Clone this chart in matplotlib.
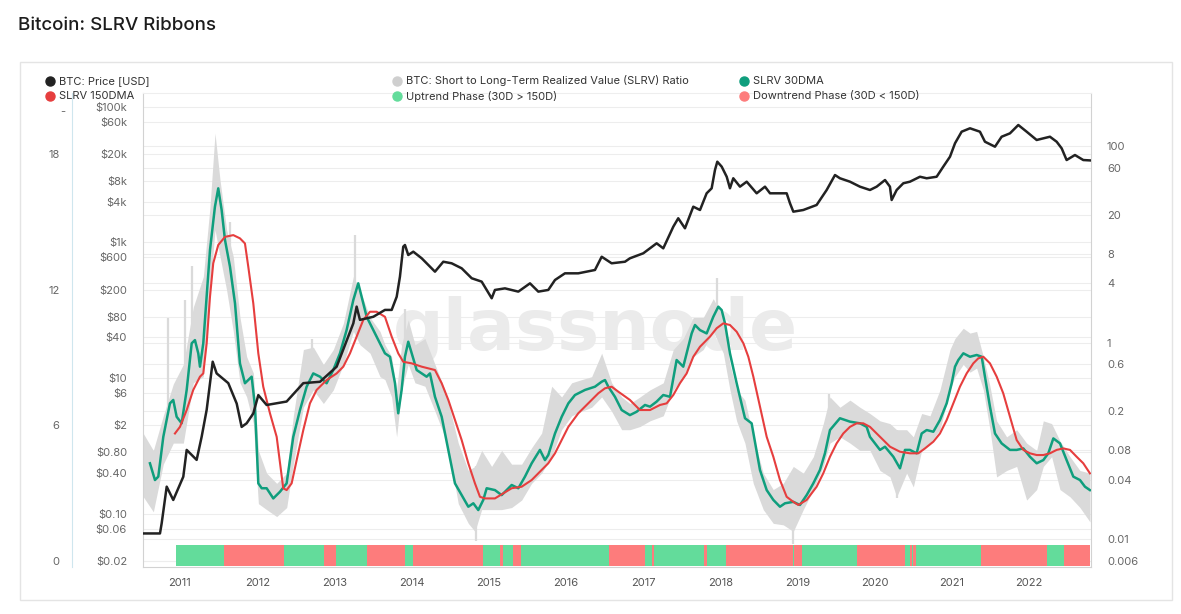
import numpy as np
import matplotlib.pyplot as plt
import matplotlib.transforms as mtrans
from matplotlib.lines import Line2D
from matplotlib.patches import Rectangle
from matplotlib.ticker import NullLocator

plt.rcParams['font.family'] = ['Inter', 'DejaVu Sans']

# ---- data (decimal years) ----
price_t = [2010.525, 2010.741, 2010.763, 2010.828, 2010.913, 2011.043, 2011.087, 2011.216, 2011.281,
           2011.346, 2011.424, 2011.475, 2011.626, 2011.735, 2011.799, 2011.864, 2011.95, 2012.015,
           2012.123, 2012.382, 2012.598, 2012.814, 2013.03, 2013.246, 2013.289, 2013.332, 2013.505,
           2013.656, 2013.743, 2013.808, 2013.85, 2013.893, 2013.915, 2013.958, 2014.023, 2014.132,
           2014.304, 2014.412, 2014.52, 2014.65, 2014.78, 2014.909, 2015.039, 2015.081, 2015.211,
           2015.384, 2015.535, 2015.643, 2015.772, 2015.859, 2015.988, 2016.161, 2016.377, 2016.464,
           2016.593, 2016.766, 2016.83, 2017.003, 2017.176, 2017.262, 2017.392, 2017.456, 2017.543,
           2017.651, 2017.738, 2017.824, 2017.889, 2017.932, 2017.962, 2018.019, 2018.084, 2018.126,
           2018.169, 2018.256, 2018.343, 2018.472, 2018.58, 2018.645, 2018.861, 2018.904, 2018.947,
           2019.076, 2019.249, 2019.379, 2019.487, 2019.551, 2019.681, 2019.81, 2019.94, 2020.027,
           2020.135, 2020.199, 2020.221, 2020.286, 2020.372, 2020.458, 2020.588, 2020.675, 2020.804,
           2020.89, 2020.977, 2021.042, 2021.128, 2021.236, 2021.365, 2021.43, 2021.56, 2021.646,
           2021.754, 2021.862, 2021.97, 2022.1, 2022.272, 2022.359, 2022.424, 2022.488, 2022.596,
           2022.704, 2022.79]
price = [0.051, 0.051, 0.072, 0.25, 0.159, 0.35, 0.87, 0.62, 1.36,
         3.4, 17.4, 11.7, 8.4, 4.2, 1.9, 2.15, 3.0, 5.6,
         4.0, 4.5, 8.4, 8.8, 14.7, 64, 113, 72, 80,
         101, 101, 158, 312, 865, 916, 652, 730, 583,
         370, 519, 492, 415, 296, 264, 150, 199, 210,
         188, 249, 188, 199, 279, 350, 350, 392, 615,
         492, 519, 583, 691, 970, 818, 1706, 2270, 1615,
         3365, 3006, 5300, 6280, 11700, 15500, 13100, 9300, 6280,
         8830, 6640, 7860, 5300, 6640, 5300, 5300, 3775, 2840,
         3006, 3565, 5930, 9860, 8830, 7860, 6640, 5930, 6640,
         8320, 6640, 4220, 5930, 7450, 7860, 9300, 8830, 9300,
         13100, 18370, 28970, 42950, 48200, 42950, 30550, 25800, 36200,
         40600, 53900, 42950, 32400, 36200, 30550, 24400, 16400, 19450,
         16400, 16200]

# raw SLRV ratio: band (upper / lower envelope)
gray_t = [2010.525, 2010.655, 2010.784, 2010.914, 2011.044, 2011.173, 2011.303, 2011.389, 2011.454,
          2011.519, 2011.605, 2011.691, 2011.778, 2011.864, 2011.951, 2012.016, 2012.123, 2012.253,
          2012.383, 2012.469, 2012.599, 2012.728, 2012.858, 2012.987, 2013.117, 2013.247, 2013.333,
          2013.463, 2013.592, 2013.656, 2013.742, 2013.807, 2013.872, 2013.958, 2014.045, 2014.174,
          2014.304, 2014.433, 2014.52, 2014.606, 2014.736, 2014.822, 2014.909, 2015.038, 2015.168,
          2015.297, 2015.427, 2015.556, 2015.686, 2015.816, 2015.945, 2016.075, 2016.204, 2016.334,
          2016.464, 2016.593, 2016.723, 2016.83, 2016.96, 2017.089, 2017.262, 2017.392, 2017.521,
          2017.651, 2017.78, 2017.91, 2018.04, 2018.126, 2018.212, 2018.32, 2018.428, 2018.558,
          2018.687, 2018.817, 2018.947, 2019.076, 2019.206, 2019.335, 2019.422, 2019.551, 2019.681,
          2019.81, 2019.94, 2020.07, 2020.199, 2020.286, 2020.415, 2020.502, 2020.61, 2020.718,
          2020.847, 2020.977, 2021.041, 2021.149, 2021.236, 2021.322, 2021.409, 2021.495, 2021.581,
          2021.711, 2021.841, 2021.97, 2022.1, 2022.186, 2022.294, 2022.402, 2022.532, 2022.661,
          2022.791]
gray_hi = [0.119, 0.080, 0.18, 0.38, 0.6, 2.3, 4.7, 24, 135,
           45, 14, 7.5, 1.8, 0.72, 0.49, 0.08, 0.047, 0.037,
           0.047, 0.18, 0.85, 0.9, 0.6, 0.85, 1.57, 4.7, 3.4,
           1.8, 1.3, 0.95, 0.72, 0.33, 0.95, 1.7, 0.95, 1.1,
           0.6, 0.33, 0.18, 0.095, 0.05, 0.055, 0.08, 0.055, 0.08,
           0.058, 0.058, 0.085, 0.12, 0.36, 0.28, 0.39, 0.42, 0.45,
           0.78, 0.39, 0.28, 0.24, 0.28, 0.33, 0.39, 0.85, 1.1,
           1.8, 1.8, 2.8, 1.8, 0.6, 0.33, 0.26, 0.11, 0.047,
           0.032, 0.037, 0.055, 0.047, 0.069, 0.15, 0.28, 0.22, 0.26,
           0.22, 0.19, 0.16, 0.15, 0.13, 0.13, 0.11, 0.19, 0.18,
           0.33, 0.85, 1.1, 1.4, 1.25, 1.3, 0.72, 0.36, 0.16,
           0.11, 0.13, 0.095, 0.08, 0.16, 0.15, 0.1, 0.069, 0.05,
           0.047]
gray_lo = [0.027, 0.019, 0.058, 0.095, 0.095, 0.39, 0.45, 3.4, 14,
           7.5, 3.4, 1.3, 0.39, 0.28, 0.15, 0.023, 0.02, 0.017,
           0.021, 0.058, 0.22, 0.33, 0.24, 0.33, 0.6, 1.3, 0.95,
           0.78, 0.45, 0.42, 0.28, 0.11, 0.33, 0.6, 0.39, 0.36,
           0.2, 0.11, 0.055, 0.023, 0.0145, 0.012, 0.02, 0.02, 0.02,
           0.021, 0.025, 0.037, 0.047, 0.069, 0.13, 0.18, 0.2, 0.22,
           0.28, 0.2, 0.13, 0.13, 0.14, 0.16, 0.18, 0.33, 0.45,
           0.72, 0.85, 1.3, 0.78, 0.33, 0.16, 0.095, 0.037, 0.02,
           0.0145, 0.014, 0.012, 0.02, 0.032, 0.055, 0.095, 0.11, 0.095,
           0.08, 0.08, 0.05, 0.043, 0.027, 0.047, 0.034, 0.08, 0.095,
           0.13, 0.33, 0.45, 0.6, 0.5, 0.55, 0.33, 0.13, 0.043,
           0.05, 0.055, 0.025, 0.032, 0.055, 0.069, 0.032, 0.027, 0.021,
           0.015]
spike_t = [2010.848, 2011.065, 2011.15, 2011.648, 2012.71, 2013.267, 2013.915, 2014.834,
           2017.953, 2018.947, 2019.41, 2020.286]
spike_hi = [1.8, 2.7, 6, 17, 1.1, 12.5, 2.2, 0.055, 4.5, 0.05, 0.3, 0.13]
spike_lo = [0.1, 0.3, 0.8, 4, 0.4, 2, 0.6, 0.0095, 1.5, 0.009, 0.1, 0.026]

ma30_t = [2010.611, 2010.676, 2010.719, 2010.784, 2010.87, 2010.913, 2010.957, 2011.022, 2011.087,
          2011.152, 2011.194, 2011.237, 2011.259, 2011.302, 2011.389, 2011.453, 2011.496, 2011.54,
          2011.583, 2011.648, 2011.713, 2011.777, 2011.842, 2011.929, 2011.972, 2012.015, 2012.059,
          2012.123, 2012.209, 2012.296, 2012.382, 2012.468, 2012.555, 2012.641, 2012.727, 2012.814,
          2012.9, 2012.986, 2013.073, 2013.159, 2013.246, 2013.31, 2013.354, 2013.419, 2013.505,
          2013.591, 2013.656, 2013.721, 2013.786, 2013.828, 2013.872, 2013.915, 2013.958, 2014.002,
          2014.067, 2014.132, 2014.196, 2014.239, 2014.304, 2014.391, 2014.477, 2014.563, 2014.65,
          2014.736, 2014.801, 2014.865, 2014.93, 2014.974, 2015.081, 2015.168, 2015.298, 2015.384,
          2015.47, 2015.557, 2015.664, 2015.729, 2015.772, 2015.859, 2015.946, 2016.032, 2016.118,
          2016.248, 2016.377, 2016.464, 2016.507, 2016.55, 2016.636, 2016.723, 2016.83, 2016.917,
          2017.025, 2017.09, 2017.176, 2017.262, 2017.349, 2017.435, 2017.521, 2017.565, 2017.63,
          2017.673, 2017.738, 2017.824, 2017.91, 2017.975, 2018.019, 2018.062, 2018.126, 2018.213,
          2018.321, 2018.407, 2018.515, 2018.602, 2018.688, 2018.774, 2018.839, 2018.947, 2019.033,
          2019.12, 2019.206, 2019.292, 2019.357, 2019.422, 2019.551, 2019.681, 2019.81, 2019.897,
          2019.94, 2020.005, 2020.07, 2020.135, 2020.243, 2020.329, 2020.394, 2020.458, 2020.545,
          2020.61, 2020.675, 2020.761, 2020.847, 2020.934, 2020.999, 2021.042, 2021.085, 2021.15,
          2021.236, 2021.323, 2021.388, 2021.43, 2021.495, 2021.56, 2021.646, 2021.754, 2021.841,
          2021.927, 2022.013, 2022.1, 2022.186, 2022.251, 2022.316, 2022.402, 2022.488, 2022.575,
          2022.661, 2022.726, 2022.79]
ma30 = [0.0592, 0.040, 0.0433, 0.110, 0.241, 0.261, 0.176, 0.151, 0.33,
        0.984, 1.06, 0.778, 0.569, 0.984, 8.75, 24.1, 37.1, 22.3,
        11.1, 5.92, 2.51, 0.615, 0.386, 0.45, 0.223, 0.037, 0.033,
        0.033, 0.026, 0.0304, 0.037, 0.110, 0.206, 0.356, 0.486, 0.45,
        0.386, 0.526, 0.778, 1.34, 2.71, 4.01, 2.93, 1.83, 1.34,
        0.984, 0.778, 0.718, 0.386, 0.191, 0.33, 0.718, 1.02, 0.778,
        0.526, 0.486, 0.45, 0.486, 0.281, 0.176, 0.081, 0.037, 0.0281,
        0.0214, 0.0232, 0.0198, 0.0251, 0.033, 0.0316, 0.0281, 0.0356, 0.033,
        0.0433, 0.0592, 0.081, 0.0638, 0.0718, 0.119, 0.176, 0.241, 0.293,
        0.33, 0.356, 0.40, 0.416, 0.356, 0.281, 0.206, 0.183, 0.198,
        0.232, 0.223, 0.251, 0.293, 0.281, 0.665, 0.569, 0.778, 1.24,
        1.51, 1.34, 1.24, 1.83, 2.32, 2.14, 1.57, 0.778, 0.386,
        0.17, 0.151, 0.0506, 0.0316, 0.0251, 0.0214, 0.0232, 0.024, 0.0223,
        0.0281, 0.037, 0.0506, 0.0748, 0.129, 0.17, 0.157, 0.151, 0.139,
        0.110, 0.0944, 0.081, 0.0873, 0.069, 0.0526, 0.081, 0.081, 0.0748,
        0.119, 0.129, 0.124, 0.163, 0.241, 0.386, 0.569, 0.665, 0.778,
        0.718, 0.748, 0.718, 0.45, 0.223, 0.119, 0.0944, 0.081, 0.081,
        0.0839, 0.069, 0.0592, 0.0638, 0.0748, 0.106, 0.0944, 0.0638, 0.0433,
        0.040, 0.0342, 0.0316]

ma150_t = [2010.935, 2011.0, 2011.087, 2011.172, 2011.259, 2011.302, 2011.346, 2011.389, 2011.431,
           2011.496, 2011.583, 2011.691, 2011.777, 2011.842, 2011.885, 2011.95, 2012.015, 2012.079,
           2012.166, 2012.253, 2012.296, 2012.338, 2012.382, 2012.447, 2012.512, 2012.598, 2012.684,
           2012.771, 2012.9, 2013.03, 2013.116, 2013.203, 2013.289, 2013.375, 2013.462, 2013.548,
           2013.656, 2013.743, 2013.828, 2013.893, 2014.002, 2014.132, 2014.304, 2014.391, 2014.477,
           2014.563, 2014.65, 2014.736, 2014.822, 2014.887, 2014.952, 2015.081, 2015.189, 2015.298,
           2015.427, 2015.557, 2015.686, 2015.772, 2015.859, 2015.946, 2016.032, 2016.161, 2016.29,
           2016.42, 2016.507, 2016.593, 2016.679, 2016.83, 2016.96, 2017.09, 2017.219, 2017.306,
           2017.392, 2017.478, 2017.565, 2017.651, 2017.738, 2017.867, 2017.954, 2018.04, 2018.126,
           2018.213, 2018.3, 2018.364, 2018.429, 2018.515, 2018.602, 2018.688, 2018.774, 2018.861,
           2018.947, 2019.012, 2019.12, 2019.249, 2019.335, 2019.422, 2019.508, 2019.594, 2019.681,
           2019.768, 2019.853, 2019.94, 2020.07, 2020.2, 2020.329, 2020.458, 2020.566, 2020.653,
           2020.761, 2020.847, 2020.934, 2021.02, 2021.106, 2021.193, 2021.279, 2021.344, 2021.409,
           2021.495, 2021.582, 2021.667, 2021.754, 2021.841, 2021.927, 2022.013, 2022.1, 2022.186,
           2022.272, 2022.359, 2022.445, 2022.532, 2022.618, 2022.704, 2022.79]
ma150 = [0.119, 0.139, 0.206, 0.33, 0.45, 0.486, 0.984, 2.93, 6.41,
         9.84, 11.9, 12.4, 11.5, 10.2, 5.92, 2.51, 0.778, 0.356,
         0.191, 0.110, 0.0592, 0.033, 0.0316, 0.037, 0.0638, 0.129, 0.241,
         0.33, 0.416, 0.486, 0.569, 0.778, 1.15, 1.70, 2.06, 2.06,
         1.83, 1.15, 0.778, 0.638, 0.615, 0.569, 0.526, 0.386, 0.261,
         0.163, 0.102, 0.0592, 0.037, 0.027, 0.026, 0.026, 0.0293, 0.033,
         0.0342, 0.040, 0.0506, 0.0592, 0.0748, 0.102, 0.139, 0.191, 0.241,
         0.305, 0.343, 0.356, 0.317, 0.261, 0.206, 0.206, 0.232, 0.241,
         0.293, 0.386, 0.486, 0.718, 0.908, 1.15, 1.40, 1.57, 1.51,
         1.29, 0.984, 0.718, 0.45, 0.223, 0.110, 0.069, 0.040, 0.027,
         0.024, 0.0223, 0.0251, 0.0342, 0.0468, 0.069, 0.0944, 0.119, 0.139,
         0.151, 0.151, 0.139, 0.110, 0.0873, 0.0776, 0.0748, 0.0748, 0.0839,
         0.0982, 0.119, 0.163, 0.241, 0.356, 0.486, 0.615, 0.692, 0.718,
         0.615, 0.45, 0.305, 0.176, 0.102, 0.081, 0.0748, 0.0718, 0.0718,
         0.0748, 0.081, 0.0839, 0.081, 0.069, 0.0592, 0.0468]

# trend phases: boundaries and state of each interval (True = uptrend)
phase_edges = [2010.944, 2011.570, 2012.348, 2012.870, 2013.017, 2013.419, 2013.919, 2014.015,
               2014.922, 2015.146, 2015.189, 2015.311, 2015.414, 2016.562, 2017.021, 2017.120,
               2017.145, 2017.789, 2017.824, 2018.074, 2018.939, 2018.960, 2019.055, 2019.776,
               2020.394, 2020.459, 2020.481, 2020.501, 2020.536, 2021.378, 2022.230, 2022.454,
               2022.790]
phase_up = [True, False, True, False, True, False, True, False, True, False, True, False, True,
            False, True, False, True, False, True, False, True, False, True, False, True, False,
            True, False, True, False, True, False]

years = list(range(2011, 2023))
price_ticks = [0.02, 0.06, 0.1, 0.4, 0.8, 2, 6, 10, 40, 80, 200, 600, 1000, 4000, 8000, 20000, 60000, 100000]
price_labels = ['$0.02', '$0.06', '$0.10', '$0.40', '$0.80', '$2', '$6', '$10', '$40', '$80', '$200',
                '$600', '$1k', '$4k', '$8k', '$20k', '$60k', '$100k']
slrv_ticks = [0.006, 0.01, 0.04, 0.08, 0.2, 0.6, 1, 4, 8, 20, 60, 100]
slrv_labels = ['0.006', '0.01', '0.04', '0.08', '0.2', '0.6', '1', '4', '8', '20', '60', '100']
phase_ticks = [0, 6, 12, 18]

C_PRICE = '#222222'
C_RAW = '#dadada'
C_30 = '#0f9e7d'
C_150 = '#e63e3e'
C_UP = '#63dc9b'
C_DOWN = '#fd7c7c'
TXT = '#666666'

W, H = 1181, 614
fig = plt.figure(figsize=(W / 100, H / 100), dpi=100)
fig.patches.append(Rectangle((20 / W, 1 - 600 / H), 1152 / W, 538 / H, transform=fig.transFigure,
                             fill=False, edgecolor='#e4e4e4', lw=1))
fig.text(18 / W, 1 - 25 / H, 'Bitcoin: SLRV Ribbons', fontsize=13.5, weight='medium',
         color='#1c1c1c', va='center', ha='left')

ax1 = fig.add_axes([143 / W, 1 - 567 / H, 948 / W, 474 / H])  # SLRV (right axis)
ax2 = ax1.twinx()  # price (left axis)
ax3 = ax1.twinx()  # phase strip (outer left axis)

ax1.set_xlim(2010.521, 2022.804)
ax1.set_yscale('log')
ax1.set_ylim(0.005216, 346)
ax2.set_yscale('log')
ax2.set_ylim(0.01632, 159800)
ax3.set_ylim(-0.265, 20.69)

# gridlines
for v in slrv_ticks:
    ax1.axhline(v, color='#ededed', lw=0.8, zorder=0)
btr = mtrans.blended_transform_factory(ax1.transAxes, ax2.transData)
for v in price_ticks:
    ax1.plot([0, 1], [v, v], transform=btr, color='#ededed', lw=0.8, zorder=0)

ax1.text(0.477, 0.50, 'glassnode', transform=ax1.transAxes, fontsize=51, weight='bold',
         color='#ebebeb', ha='center', va='center', family='DejaVu Sans', zorder=0.5)

ax1.fill_between(gray_t, gray_lo, gray_hi, color=C_RAW, lw=0, zorder=1)
ax1.vlines(spike_t, spike_lo, spike_hi, color=C_RAW, lw=1.6, zorder=1)
ax1.plot(ma30_t, ma30, color=C_30, lw=1.8, zorder=3)
ax1.plot(ma150_t, ma150, color=C_150, lw=1.5, zorder=4)

ax2.plot(price_t, price, color=C_PRICE, lw=1.8)

starts = phase_edges[:-1]
widths = np.diff(phase_edges)
ax3.bar(starts, 0.93, width=widths, bottom=-0.22, align='edge', lw=0,
        color=[C_UP if u else C_DOWN for u in phase_up])

# axes styling
ax1.yaxis.tick_right()
ax1.set_yticks(slrv_ticks)
ax1.set_yticklabels(slrv_labels)
ax1.yaxis.set_minor_locator(NullLocator())
ax1.set_xticks(years)
ax1.set_xticklabels([str(y) for y in years])
ax1.tick_params(axis='both', length=0, labelsize=8, labelcolor=TXT)
ax1.tick_params(axis='y', pad=11.5)
ax1.tick_params(axis='x', pad=8, labelcolor='#555555')
for s in ['left', 'right', 'bottom']:
    ax1.spines[s].set_color('#d2d2d2')
ax1.spines['top'].set_color('#eeeeee')

ax2.yaxis.set_ticks_position('left')
ax2.set_yticks(price_ticks)
ax2.set_yticklabels(price_labels)
ax2.yaxis.set_minor_locator(NullLocator())
ax2.tick_params(axis='y', length=0, labelsize=8, labelcolor=TXT, pad=11.5)
for s in ax2.spines.values():
    s.set_visible(False)

ax3.yaxis.set_ticks_position('left')
ax3.set_yticks(phase_ticks)
ax3.set_yticklabels([str(v) for v in phase_ticks])
ax3.tick_params(axis='y', length=0, labelsize=8, labelcolor=TXT, pad=9)
for s in ax3.spines.values():
    s.set_visible(False)
ax3.spines['left'].set_visible(True)
ax3.spines['left'].set_position(('outward', 51))
ax3.spines['left'].set_color('#cfe6ee')
fig.text(63 / W, 1 - 112 / H, '-', fontsize=8, color=TXT, ha='center', va='center')

# legend
legend_items = [
    (50, 81, C_PRICE, 'BTC: Price [USD]'),
    (397, 81, '#cfcfcf', 'BTC: Short to Long-Term Realized Value (SLRV) Ratio'),
    (744, 81, C_30, 'SLRV 30DMA'),
    (50, 96, C_150, 'SLRV 150DMA'),
    (397, 96, C_UP, 'Uptrend Phase (30D > 150D)'),
    (744, 96, C_DOWN, 'Downtrend Phase (30D < 150D)'),
]
for x, y, c, lab in legend_items:
    fig.add_artist(Line2D([x / W], [1 - y / H], marker='o', markersize=6.5, color=c, lw=0,
                          transform=fig.transFigure))
    fig.text((x + 9) / W, 1 - y / H, lab, fontsize=8, color='#333333', va='center', ha='left')

fig.savefig('out.png', dpi=100)
